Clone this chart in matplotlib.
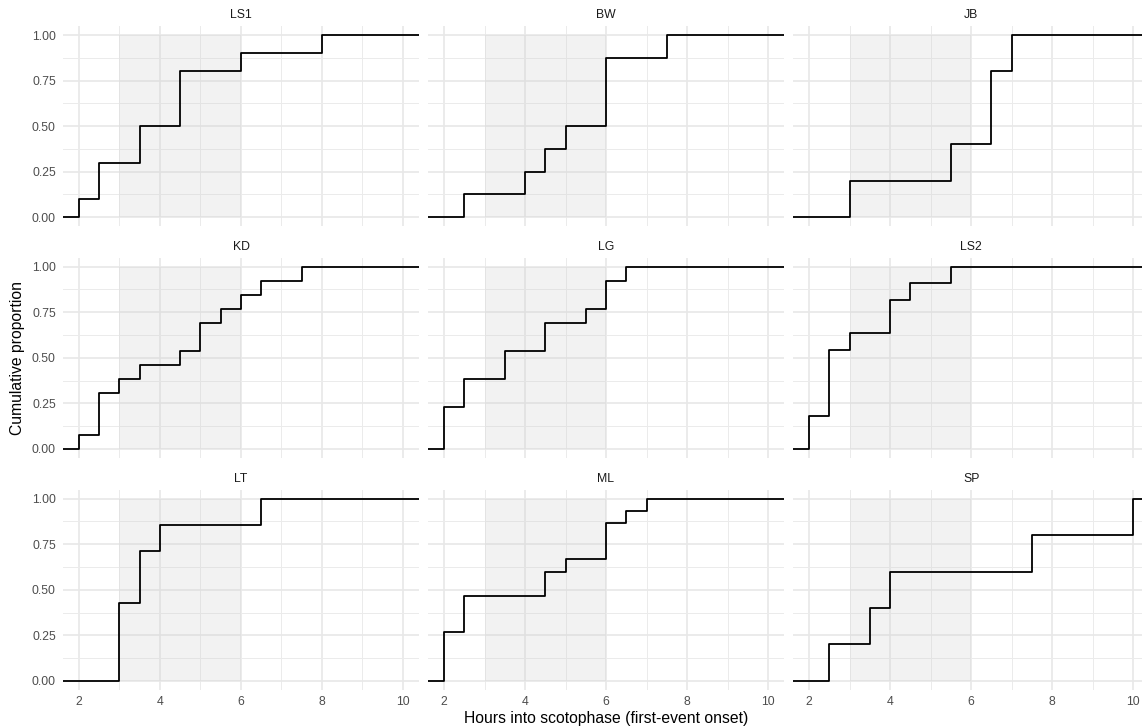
# -*- coding: utf-8 -*-

"""
Cumulative proportion of first-event onset, one panel per subject
"""

import numpy as np
import matplotlib
matplotlib.use("Agg")
import matplotlib.pyplot as plt
from matplotlib.ticker import MultipleLocator, FixedLocator


# Data: onset hours (one value per night)
subjects = ["LS1", "BW", "JB", "KD", "LG", "LS2", "LT", "ML", "SP"]
onsets = {
    "LS1": [2, 2.5, 2.5, 3.5, 3.5, 4.5, 4.5, 4.5, 6, 8],
    "BW": [2.5, 4, 4.5, 5, 6, 6, 6, 7.5],
    "JB": [3, 5.5, 6.5, 6.5, 7],
    "KD": [2, 2.5, 2.5, 2.5, 3, 3.5, 4.5, 5, 5, 5.5, 6, 6.5, 7.5],
    "LG": [2, 2, 2, 2.5, 2.5, 3.5, 3.5, 4.5, 4.5, 5.5, 6, 6, 6.5],
    "LS2": [2, 2, 2.5, 2.5, 2.5, 2.5, 3, 4, 4, 4.5, 5.5],
    "LT": [3, 3, 3, 3.5, 3.5, 4, 6.5],
    "ML": [2, 2, 2, 2, 2.5, 2.5, 2.5, 4.5, 4.5, 5, 6, 6, 6, 6.5, 7],
    "SP": [2.5, 3.5, 4, 7.5, 10],
}
scoto_window = [3, 6]
x_ticks = [2, 4, 6, 8, 10]
y_ticks = [0, 0.25, 0.5, 0.75, 1.0]
y_tick_labels = ["0.00", "0.25", "0.50", "0.75", "1.00"]


def main():

    plt.rcParams["font.family"] = ["Liberation Sans", "DejaVu Sans"]

    W, H = 1142, 728
    fig = plt.figure(figsize = (W / 100, H / 100), dpi = 100)

    # panel geometry in pixels
    lefts = [62.8, 427.8, 793.0]
    tops = [25.9, 257.6, 489.6]
    pw, ph = 356.4, 200.4

    allx = np.concatenate([np.array(v, float) for v in onsets.values()])
    lo, hi = allx.min(), allx.max()
    xlim = (lo - 0.05 * (hi - lo), hi + 0.05 * (hi - lo))
    ylim = (-0.05, 1.05)

    for k, name in enumerate(subjects):
        r, c = divmod(k, 3)
        ax = fig.add_axes([lefts[c] / W, 1 - (tops[r] + ph) / H, pw / W, ph / H])
        ax.set_xlim(xlim)
        ax.set_ylim(ylim)

        # grid like theme_minimal
        ax.xaxis.set_major_locator(FixedLocator(x_ticks))
        ax.xaxis.set_minor_locator(MultipleLocator(1))
        ax.yaxis.set_major_locator(FixedLocator(y_ticks))
        ax.yaxis.set_minor_locator(MultipleLocator(0.125))
        ax.grid(which = "major", color = "#e8e8e8", linewidth = 1.2, zorder = 0)
        ax.grid(which = "minor", color = "#ebebeb", linewidth = 0.7, zorder = 0)
        ax.set_axisbelow(True)
        for s in ax.spines.values():
            s.set_visible(False)
        ax.tick_params(which = "both", length = 0, labelsize = 8.8, labelcolor = "#4d4d4d")
        ax.tick_params(axis = "x", pad = 4.5)
        ax.tick_params(axis = "y", pad = 5)

        if r == 2:
            ax.set_xticklabels([str(t) for t in x_ticks])
        else:
            ax.set_xticklabels([])
        if c == 0:
            ax.set_yticklabels(y_tick_labels)
        else:
            ax.set_yticklabels([])

        # shaded scotophase window
        ax.fill_between(scoto_window, 0, 1, color = "#cccccc", alpha = 0.25,
                        linewidth = 0, zorder = 1)

        # ecdf step line, padded to the panel edges
        vals, counts = np.unique(np.array(onsets[name], float), return_counts = True)
        cum = np.cumsum(counts) / counts.sum()
        xs = np.concatenate([[xlim[0]], vals, [xlim[1]]])
        ys = np.concatenate([[0], cum, [1]])
        ax.step(xs, ys, where = "post", color = "black", linewidth = 1.3, zorder = 3)

        ax.set_title(name, fontsize = 8.8, color = "#1a1a1a", pad = 5.5)

    fig.text(606 / W, 1 - 718 / H, "Hours into scotophase (first-event onset)",
             ha = "center", va = "center", fontsize = 11.3)
    fig.text(18 / W, 1 - 358 / H, "Cumulative proportion", rotation = 90,
             ha = "center", va = "center", fontsize = 11.3)

    plt.savefig("out.png", dpi = 100)

    return


if __name__ == "__main__":

    main()
